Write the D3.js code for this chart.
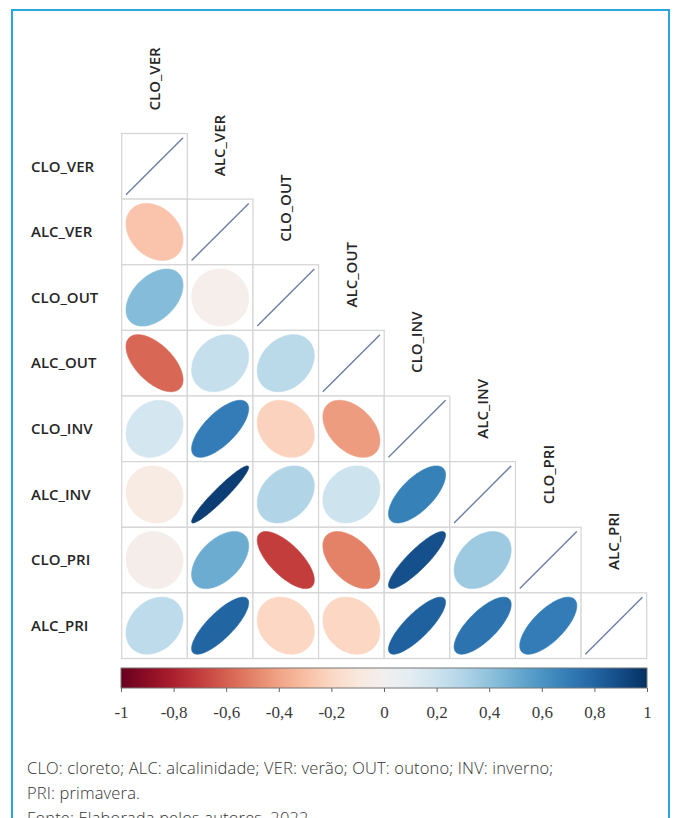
<!DOCTYPE html>
<html>
<head>
<meta charset="utf-8">
<script src="https://cdn.jsdelivr.net/npm/d3@7"></script>
<style>
  html, body { margin: 0; padding: 0; background: #fff; }
  svg { display: block; }
</style>
</head>
<body>
<svg id="chart" width="675" height="818"></svg>
<script>
// ---- data ----
const variables = ["CLO_VER", "ALC_VER", "CLO_OUT", "ALC_OUT", "CLO_INV", "ALC_INV", "CLO_PRI", "ALC_PRI"];
// lower-triangle correlations, row i has i values (columns 0..i-1); diagonal = 1
const corrRows = [
  [],
  [-0.28],
  [0.43, -0.03],
  [-0.58, 0.23, 0.27],
  [0.17, 0.70, -0.22, -0.42],
  [-0.07, 0.95, 0.30, 0.20, 0.68],
  [-0.04, 0.50, -0.70, -0.50, 0.88, 0.36],
  [0.26, 0.80, -0.20, -0.20, 0.82, 0.74, 0.70]
];
const colorTicks = [-1, -0.8, -0.6, -0.4, -0.2, 0, 0.2, 0.4, 0.6, 0.8, 1];
const footnoteLines = [
  "CLO: cloreto; ALC: alcalinidade; VER: verão; OUT: outono; INV: inverno;",
  "PRI: primavera.",
  "Fonte: Elaborada pelos autores, 2022"
];

// ---- layout ----
const svg = d3.select("#chart");
const gridLeft = 121.7, gridRight = 646.7, gridTop = 133.5;
const cell = (gridRight - gridLeft) / variables.length;

const x = d3.scaleBand().domain(variables).range([gridLeft, gridRight]).padding(0);
const y = d3.scaleBand().domain(variables).range([gridTop, gridTop + cell * variables.length]).padding(0);
const color = d3.scaleSequential(t => d3.interpolateRdBu(t)).domain([-1, 1]);

// frame
svg.append("rect")
  .attr("x", 12).attr("y", 10).attr("width", 657).attr("height", 830)
  .attr("fill", "none").attr("stroke", "#2aa6df").attr("stroke-width", 2);

// build cells
const cells = [];
variables.forEach((rv, i) => {
  variables.forEach((cv, j) => {
    if (j < i) cells.push({ row: rv, col: cv, r: corrRows[i][j] });
    else if (j === i) cells.push({ row: rv, col: cv, r: 1 });
  });
});

const g = svg.append("g");

// cell borders
g.selectAll("rect.cell").data(cells).join("rect")
  .attr("class", "cell")
  .attr("x", d => x(d.col)).attr("y", d => y(d.row))
  .attr("width", x.bandwidth()).attr("height", y.bandwidth())
  .attr("fill", "#fff").attr("stroke", "#d4d4d4").attr("stroke-width", 1.2);

// ellipse geometry (plotcorr style)
const rad = x.bandwidth() / 2 * 0.87;
function ellipsePoints(r) {
  const d = Math.acos(Math.max(-1, Math.min(1, r)));
  const pts = [];
  for (let k = 0; k <= 120; k++) {
    const t = k / 120 * 2 * Math.PI;
    pts.push([Math.cos(t + d / 2) * rad, -Math.cos(t - d / 2) * rad]);
  }
  return pts;
}
const line = d3.line().curve(d3.curveLinearClosed);

g.selectAll("path.ell").data(cells.filter(d => d.r < 1)).join("path")
  .attr("class", "ell")
  .attr("transform", d => `translate(${x(d.col) + x.bandwidth() / 2},${y(d.row) + y.bandwidth() / 2})`)
  .attr("d", d => line(ellipsePoints(d.r)))
  .attr("fill", d => color(d.r))
  .attr("stroke", d => color(d.r)).attr("stroke-width", 0.6);

// diagonal lines
g.selectAll("line.diag").data(cells.filter(d => d.r === 1)).join("line")
  .attr("class", "diag")
  .attr("x1", d => x(d.col) + x.bandwidth() / 2 - rad)
  .attr("y1", d => y(d.row) + y.bandwidth() / 2 + rad)
  .attr("x2", d => x(d.col) + x.bandwidth() / 2 + rad)
  .attr("y2", d => y(d.row) + y.bandwidth() / 2 - rad)
  .attr("stroke", "#6b7ea6").attr("stroke-width", 1.4);

// row labels
svg.selectAll("text.rowlab").data(variables).join("text")
  .attr("class", "rowlab")
  .attr("x", 31).attr("y", d => y(d) + y.bandwidth() / 2)
  .attr("dy", "0.35em")
  .attr("font-family", "'Open Sans', sans-serif").attr("font-weight", 600)
  .attr("font-size", 15).attr("fill", "#262626")
  .text(d => d);

// column labels (rotated, above each diagonal cell)
svg.selectAll("text.collab").data(variables).join("text")
  .attr("class", "collab")
  .attr("transform", d => `translate(${x(d) + x.bandwidth() / 2},${y(d) - 23}) rotate(-90)`)
  .attr("dy", "0.35em")
  .attr("text-anchor", "start")
  .attr("font-family", "'Open Sans', sans-serif").attr("font-weight", 600)
  .attr("font-size", 15).attr("fill", "#262626")
  .text(d => d);

// ---- colour bar ----
const cbX = d3.scaleLinear().domain([-1, 1]).range([121, 647]);
const cbTop = 668, cbH = 20;
const defs = svg.append("defs");
const grad = defs.append("linearGradient").attr("id", "cbgrad")
  .attr("x1", "0%").attr("x2", "100%").attr("y1", "0%").attr("y2", "0%");
d3.range(0, 1.0001, 0.05).forEach(t => {
  grad.append("stop").attr("offset", (t * 100) + "%").attr("stop-color", d3.interpolateRdBu(t));
});
svg.append("rect")
  .attr("x", cbX(-1)).attr("y", cbTop).attr("width", cbX(1) - cbX(-1)).attr("height", cbH)
  .attr("fill", "url(#cbgrad)").attr("stroke", "#777").attr("stroke-width", 1);

const axis = d3.axisBottom(cbX).tickValues(colorTicks).tickSize(4).tickPadding(14)
  .tickFormat(v => (Math.abs(v) < 1e-9 ? "0" : String(+v.toFixed(1))).replace(".", ","));
const ax = svg.append("g").attr("transform", `translate(0,${cbTop + cbH})`).call(axis);
ax.select(".domain").remove();
ax.selectAll(".tick line").attr("stroke", "#666");
ax.selectAll(".tick text")
  .attr("font-family", "'Liberation Serif', 'Times New Roman', serif")
  .attr("font-size", 17).attr("fill", "#3a3a3a");

// ---- footnote ----
svg.selectAll("text.foot").data(footnoteLines).join("text")
  .attr("class", "foot")
  .attr("x", 27).attr("y", (d, i) => 774 + i * 25)
  .attr("font-family", "'Open Sans', sans-serif").attr("font-weight", 300)
  .attr("font-size", 16.5).attr("letter-spacing", 0.15).attr("fill", "#333")
  .text(d => d);
</script>
</body>
</html>
